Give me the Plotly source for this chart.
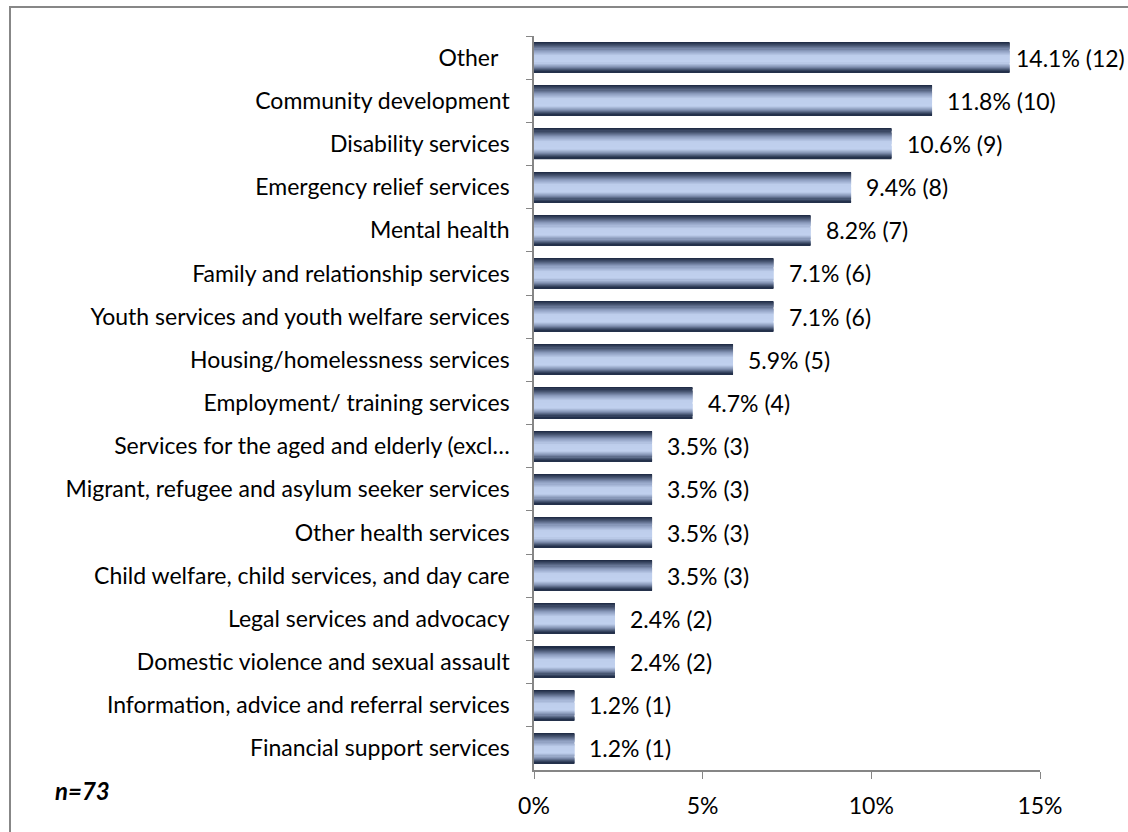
import plotly.graph_objects as go

# Service areas, top to bottom
categories = [
    "Other\u00a0\u00a0",
    "Community development",
    "Disability services",
    "Emergency relief services",
    "Mental health",
    "Family and relationship services",
    "Youth services and youth welfare services",
    "Housing/homelessness services",
    "Employment/ training services",
    "Services for the aged and elderly (excl…",
    "Migrant, refugee and asylum seeker services",
    "Other health services",
    "Child welfare, child services, and day care",
    "Legal services and advocacy",
    "Domestic violence and sexual assault",
    "Information, advice and referral services",
    "Financial support services",
]
percent = [14.1, 11.8, 10.6, 9.4, 8.2, 7.1, 7.1, 5.9, 4.7, 3.5, 3.5, 3.5, 3.5, 2.4, 2.4, 1.2, 1.2]
counts = [12, 10, 9, 8, 7, 6, 6, 5, 4, 3, 3, 3, 3, 2, 2, 1, 1]
x_ticks = [0, 5, 10, 15]
sample_note = "n=73"

FONT = "Lato"
FS = 23
W, H = 1128, 832
L, R, T, B = 534, 1128 - 1040, 36, 832 - 770

# Vertical gradient profile of each bar (top -> bottom)
stops = [
    (0.00, (26, 38, 64)),
    (0.12, (70, 84, 112)),
    (0.28, (140, 156, 190)),
    (0.45, (190, 206, 236)),
    (0.68, (192, 208, 238)),
    (0.82, (130, 146, 178)),
    (0.93, (60, 74, 102)),
    (1.00, (28, 40, 66)),
]


def color_at(t):
    for (t0, c0), (t1, c1) in zip(stops, stops[1:]):
        if t0 <= t <= t1:
            f = (t - t0) / (t1 - t0) if t1 > t0 else 0
            c = [round(a + (b - a) * f) for a, b in zip(c0, c1)]
            return "rgb(%d,%d,%d)" % tuple(c)
    return "rgb(%d,%d,%d)" % stops[-1][1]


bar_w = 0.70
n_slices = 28
slice_w = bar_w / n_slices

fig = go.Figure()
for i in range(n_slices):
    t = (i + 0.5) / n_slices
    fig.add_trace(go.Bar(
        x=percent,
        y=categories,
        orientation="h",
        width=slice_w * 1.08,
        offset=-bar_w / 2 + i * slice_w,
        marker=dict(color=color_at(t), line=dict(width=0)),
        hoverinfo="skip",
        showlegend=False,
    ))

# Value labels to the right of each bar; the longest bar's label is
# tucked in closer so that it stays inside the chart area
longest = max(percent)
annotations = [
    dict(
        x=p, y=cat, xref="x", yref="y",
        text=f"{p:.1f}% ({c})",
        xanchor="left", yanchor="middle",
        xshift=4 if p == longest else 13,
        showarrow=False,
        font=dict(family=FONT, size=FS, color="#000000"),
    )
    for cat, p, c in zip(categories, percent, counts)
]
annotations.append(dict(
    text=f"<b><i>{sample_note}</i></b>",
    xref="paper", yref="paper",
    x=(53 - L) / (W - L - R), y=(H - B - 790) / (H - T - B),
    xanchor="left", yanchor="middle",
    showarrow=False,
    font=dict(family=FONT, size=24, color="#000000"),
))

fig.update_layout(
    width=W,
    height=H,
    margin=dict(l=L, r=R, t=T, b=B, pad=0),
    paper_bgcolor="white",
    plot_bgcolor="white",
    barmode="overlay",
    font=dict(family=FONT, size=FS, color="#000000"),
    xaxis=dict(
        range=[0, 15],
        tickvals=x_ticks,
        ticktext=[f"{v}%" for v in x_ticks],
        showgrid=False,
        zeroline=False,
        showline=True,
        linecolor="#868686",
        linewidth=1.5,
        ticks="outside",
        ticklen=7,
        tickcolor="#868686",
        tickfont=dict(family=FONT, size=FS),
        ticklabelstandoff=8,
    ),
    yaxis=dict(
        categoryorder="array",
        categoryarray=categories,
        range=[len(categories) - 0.5, -0.5],
        showgrid=False,
        zeroline=False,
        showline=True,
        linecolor="#868686",
        linewidth=1.5,
        ticks="outside",
        tickson="boundaries",
        ticklen=6,
        tickcolor="#868686",
        tickfont=dict(family=FONT, size=FS),
        ticklabelstandoff=18,
    ),
    shapes=[dict(
        type="rect",
        xref="paper", yref="paper",
        x0=(10 - L) / (W - L - R), x1=1.4,
        y0=-0.3, y1=1 + (T - 7) / (H - T - B),
        line=dict(color="#878787", width=2),
        fillcolor="rgba(0,0,0,0)",
        layer="below",
    )],
    annotations=annotations,
)

fig.write_html("out.html")
